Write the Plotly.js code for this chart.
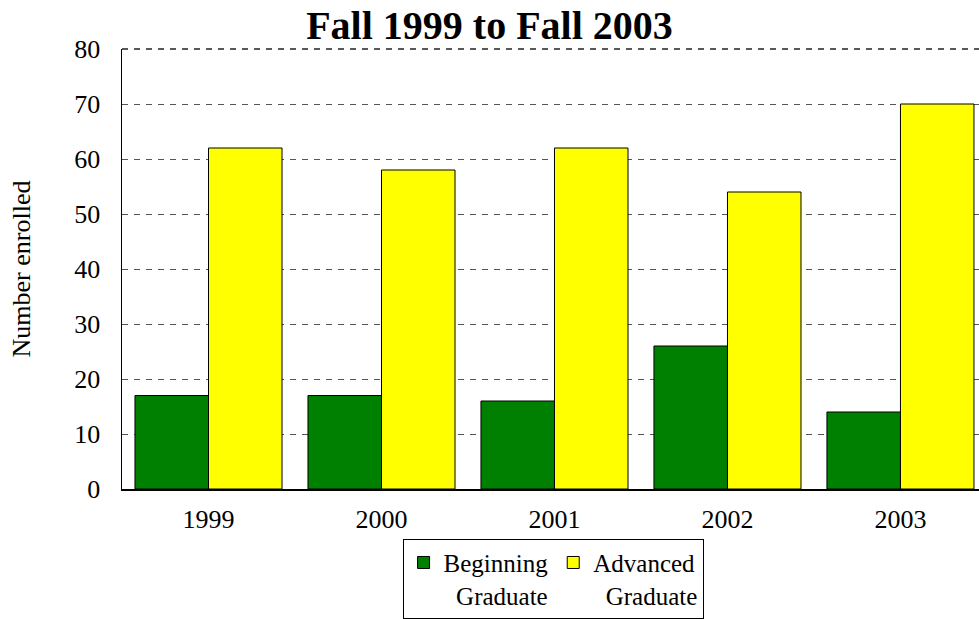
<!DOCTYPE html>
<html>
<head>
<meta charset="utf-8">
<script src="https://cdn.plot.ly/plotly-3.0.1.min.js"></script>
<style>html,body{margin:0;padding:0;background:#fff;}#chart{width:979px;height:619px;}</style>
</head>
<body>
<div id="chart"></div>
<script>
const years = ['1999', '2000', '2001', '2002', '2003'];
const beginningGraduate = [17, 17, 16, 26, 14];
const advancedGraduate = [62, 58, 62, 54, 70];
const seriesNames = ['Beginning<br>&nbsp;&nbsp;Graduate', 'Advanced<br>&nbsp;&nbsp;Graduate'];

const font = 'Liberation Serif, Times New Roman, serif';

const traces = [
  {type: 'bar', x: years, y: beginningGraduate, name: seriesNames[0],
   marker: {color: '#008000', line: {color: '#000', width: 1}}},
  {type: 'bar', x: years, y: advancedGraduate, name: seriesNames[1],
   marker: {color: '#ffff00', line: {color: '#000', width: 1}}}
];

const layout = {
  width: 979, height: 619,
  margin: {l: 122, r: 0, t: 49, b: 130, autoexpand: false},
  paper_bgcolor: '#fff', plot_bgcolor: '#fff',
  font: {family: font, size: 26, color: '#000'},
  title: {text: '<b>Fall 1999 to Fall 2003</b>', font: {family: font, size: 40, color: '#000'},
          x: 0.5, xanchor: 'center', xref: 'container', y: 0.96, yanchor: 'middle', yref: 'container'},
  barmode: 'group', bargap: 0.15, bargroupgap: 0,
  xaxis: {type: 'category', range: [-0.5, 4.454], showline: true, linecolor: '#000', linewidth: 1.5,
          ticks: '', showgrid: false, tickfont: {family: font, size: 26, color: '#000'}, ticklabelstandoff: 6},
  yaxis: {range: [0, 80], dtick: 10, showline: true, linecolor: '#000', linewidth: 1.5,
          ticks: '', showgrid: true, gridcolor: '#555', griddash: '6px,6px', gridwidth: 1,
          zeroline: false, tickfont: {family: font, size: 26, color: '#000'}, ticklabelstandoff: 15,
          title: {text: 'Number enrolled', font: {family: font, size: 26, color: '#000'}, standoff: 36}},
  shapes: [
    {type: 'line', xref: 'paper', yref: 'paper', x0: 0, x1: 1, y0: 1, y1: 1,
     line: {color: '#222', width: 1.5, dash: '6px,6px'}}
  ],
  showlegend: true,
  legend: {orientation: 'h', x: 0.503, xanchor: 'center', y: -0.113, yanchor: 'top',
           bordercolor: '#000', borderwidth: 1, bgcolor: '#fff', itemwidth: 30,
           font: {family: font, size: 25, color: '#000'}, traceorder: 'normal', valign: 'top'}
};

Plotly.newPlot('chart', traces, layout, {displayModeBar: false, staticPlot: true});
</script>
</body>
</html>
